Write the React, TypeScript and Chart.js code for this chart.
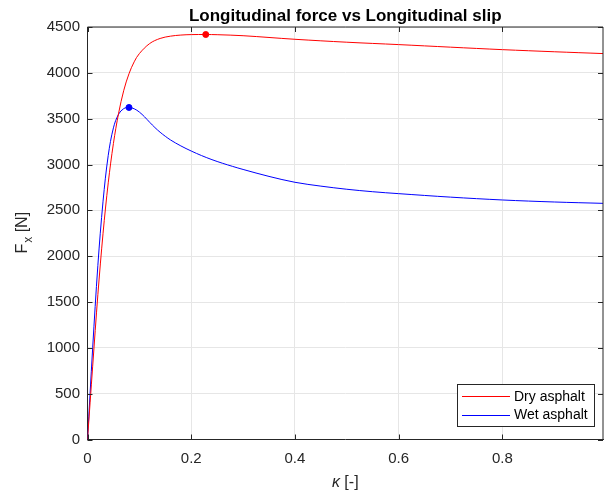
import React, { useEffect, useRef } from "react";
import { Chart, registerables } from "chart.js";

Chart.register(...registerables);

// ---- data ----
const titleText = "Longitudinal force vs Longitudinal slip";
const seriesLabels = ["Dry asphalt", "Wet asphalt"];

const slipDry = [0, 0.01, 0.02, 0.03, 0.04, 0.05, 0.06, 0.07, 0.08, 0.09, 0.1, 0.12, 0.14, 0.16, 0.18, 0.2, 0.228, 0.25, 0.3, 0.4, 0.5, 0.6, 0.7, 0.8, 0.9, 0.995];
const forceDry = [0, 800, 1580, 2250, 2800, 3230, 3560, 3810, 3990, 4120, 4210, 4320, 4375, 4400, 4412, 4417, 4418, 4416, 4405, 4366, 4334, 4308, 4280, 4253, 4230, 4210];

const slipWet = [0, 0.01, 0.02, 0.03, 0.04, 0.05, 0.06, 0.07, 0.08, 0.09, 0.1, 0.11, 0.12, 0.13, 0.14, 0.15, 0.16, 0.17, 0.18, 0.19, 0.2, 0.22, 0.24, 0.26, 0.28, 0.3, 0.35, 0.4, 0.45, 0.5, 0.55, 0.6, 0.7, 0.8, 0.9, 0.995];
const forceWet = [0, 1000, 1900, 2600, 3100, 3400, 3550, 3610, 3622, 3608, 3572, 3520, 3460, 3403, 3352, 3308, 3268, 3234, 3203, 3174, 3147, 3097, 3053, 3014, 2979, 2946, 2870, 2806, 2764, 2730, 2703, 2682, 2644, 2613, 2591, 2576];

const peakDrySlip = [0.228];
const peakDryForce = [4418];
const peakWetSlip = [0.08];
const peakWetForce = [3622];

const xTicks = [0, 0.2, 0.4, 0.6, 0.8];
const xTickLabels = ["0", "0.2", "0.4", "0.6", "0.8"];
const yTicks = [0, 500, 1000, 1500, 2000, 2500, 3000, 3500, 4000, 4500];
const xMin = 0;
const xMax = 0.994;
const yMin = 0;
const yMax = 4500;

const colors = ["#ff0000", "#0000ff"];
const FONT = "'Liberation Sans', Arial, Helvetica, sans-serif";
const AXIS = "#262626";

const toPoints = (xs: number[], ys: number[]) => xs.map((x, i) => ({ x, y: ys[i] }));

const decor = {
  id: "matlabDecor",
  afterDraw(chart: any) {
    const { ctx, chartArea } = chart;
    const { left, right, top, bottom } = chartArea;
    const xs = chart.scales.x;
    const ys = chart.scales.y;
    ctx.save();
    // box top/right
    ctx.strokeStyle = AXIS;
    ctx.lineWidth = 1;
    ctx.beginPath();
    ctx.moveTo(left, top);
    ctx.lineTo(right, top);
    ctx.lineTo(right, bottom);
    ctx.stroke();
    // inward ticks
    const tl = 5;
    ctx.beginPath();
    xTicks.forEach((v) => {
      const px = Math.round(xs.getPixelForValue(v)) + 0.5;
      ctx.moveTo(px, bottom);
      ctx.lineTo(px, bottom - tl);
      ctx.moveTo(px, top);
      ctx.lineTo(px, top + tl);
    });
    yTicks.forEach((v) => {
      const py = Math.round(ys.getPixelForValue(v)) + 0.5;
      ctx.moveTo(left, py);
      ctx.lineTo(left + tl, py);
      ctx.moveTo(right, py);
      ctx.lineTo(right - tl, py);
    });
    ctx.stroke();

    // title
    const cx = (left + right) / 2;
    ctx.fillStyle = "#000000";
    ctx.font = `bold 17px ${FONT}`;
    ctx.textAlign = "center";
    ctx.textBaseline = "alphabetic";
    ctx.fillText(titleText, cx, 21);

    // x label: κ [-]
    ctx.fillStyle = AXIS;
    ctx.textAlign = "left";
    const fItal = `italic 16px ${FONT}`;
    const fNorm = `16px ${FONT}`;
    ctx.font = fItal;
    const wk = ctx.measureText("κ").width;
    ctx.font = fNorm;
    const wr = ctx.measureText(" [-]").width;
    const sx = cx - (wk + wr) / 2;
    ctx.font = fItal;
    ctx.fillText("κ", sx, 487);
    ctx.font = fNorm;
    ctx.fillText(" [-]", sx + wk, 487);

    // y label: F_x [N]
    ctx.save();
    ctx.translate(27, (top + bottom) / 2);
    ctx.rotate(-Math.PI / 2);
    const fBig = `16px ${FONT}`;
    const fSub = `12px ${FONT}`;
    ctx.font = fBig;
    const wF = ctx.measureText("F").width;
    const wN = ctx.measureText(" [N]").width;
    ctx.font = fSub;
    const wx = ctx.measureText("x").width;
    const tot = wF + wx + wN;
    let p = -tot / 2;
    ctx.font = fBig;
    ctx.fillText("F", p, 0);
    p += wF;
    ctx.font = fSub;
    ctx.fillText("x", p + 1, 5);
    p += wx + 1;
    ctx.font = fBig;
    ctx.fillText(" [N]", p, 0);
    ctx.restore();

    // legend
    const lx = 457.5, ly = 384.5, lw = 137, lh = 42;
    ctx.fillStyle = "#ffffff";
    ctx.fillRect(lx, ly, lw, lh);
    ctx.strokeStyle = AXIS;
    ctx.lineWidth = 1;
    ctx.strokeRect(lx, ly, lw, lh);
    ctx.font = `14px ${FONT}`;
    ctx.textBaseline = "middle";
    ctx.textAlign = "left";
    seriesLabels.forEach((lab, i) => {
      const yy = 396 + i * 18.6;
      ctx.strokeStyle = colors[i];
      ctx.beginPath();
      ctx.moveTo(462, Math.round(yy) + 0.5);
      ctx.lineTo(510, Math.round(yy) + 0.5);
      ctx.stroke();
      ctx.fillStyle = "#000000";
      ctx.fillText(lab, 514, yy + 1);
    });
    ctx.restore();
  },
};

export default function App() {
  const ref = useRef<HTMLCanvasElement>(null);
  useEffect(() => {
    document.body.style.margin = "0";
    const canvas = ref.current;
    if (!canvas) return;
    const chart = new Chart(canvas, {
      type: "line",
      data: {
        datasets: [
          {
            label: seriesLabels[0],
            data: toPoints(slipDry, forceDry),
            borderColor: colors[0],
            borderWidth: 1,
            pointRadius: 0,
            tension: 0.35,
          },
          {
            label: seriesLabels[1],
            data: toPoints(slipWet, forceWet),
            borderColor: colors[1],
            borderWidth: 1,
            pointRadius: 0,
            tension: 0.35,
          },
          {
            label: "peakDry",
            data: toPoints(peakDrySlip, peakDryForce),
            showLine: false,
            pointRadius: 3,
            pointBackgroundColor: colors[0],
            pointBorderColor: colors[0],
            borderColor: colors[0],
          },
          {
            label: "peakWet",
            data: toPoints(peakWetSlip, peakWetForce),
            showLine: false,
            pointRadius: 3,
            pointBackgroundColor: colors[1],
            pointBorderColor: colors[1],
            borderColor: colors[1],
          },
        ],
      },
      options: {
        responsive: false,
        animation: false,
        layout: { autoPadding: false, padding: { top: 27, right: 1, left: 0, bottom: 0 } },
        plugins: { legend: { display: false }, title: { display: false }, tooltip: { enabled: false } },
        scales: {
          x: {
            type: "linear",
            min: xMin,
            max: xMax,
            afterFit: (s: any) => { s.height = 52.5; s.paddingRight = 0; s.paddingLeft = 0; },
            afterBuildTicks: (s: any) => { s.ticks = xTicks.map((v) => ({ value: v })); },
            grid: { color: "#e6e6e6", drawTicks: false },
            border: { display: true, color: AXIS, width: 1 },
            ticks: {
              padding: 10,
              color: AXIS,
              font: { family: FONT, size: 15 },
              callback: (v: any) => { const i = xTicks.indexOf(Number(v)); return i >= 0 ? xTickLabels[i] : ""; },
            },
          },
          y: {
            type: "linear",
            min: yMin,
            max: yMax,
            afterFit: (s: any) => { s.width = 87.5; },
            afterBuildTicks: (s: any) => { s.ticks = yTicks.map((v) => ({ value: v })); },
            grid: { color: "#e6e6e6", drawTicks: false },
            border: { display: true, color: AXIS, width: 1 },
            ticks: {
              padding: 7.5,
              color: AXIS,
              font: { family: FONT, size: 15 },
              callback: (v: any) => String(v),
            },
          },
        },
      },
      plugins: [decor],
    });
    return () => chart.destroy();
  }, []);
  return (
    <div style={{ width: 604, height: 492, position: "relative", background: "#ffffff" }}>
      <canvas ref={ref} width={604} height={492} style={{ display: "block" }} />
    </div>
  );
}
